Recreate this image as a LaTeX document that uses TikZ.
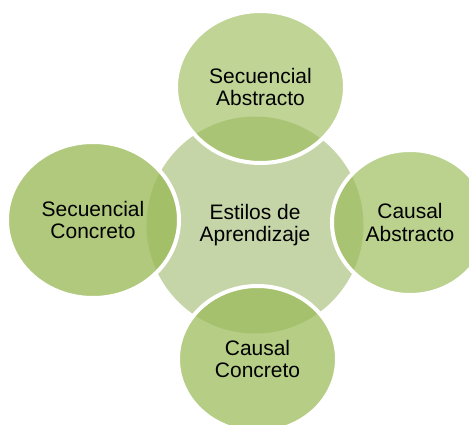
\documentclass[tikz,border=0pt]{standalone}
\usepackage{fontspec}
\setmainfont{Liberation Sans}
\usepackage{tikz}
\usetikzlibrary{shapes.geometric}

\definecolor{leaf}{RGB}{155,187,89}
\definecolor{hubgreen}{RGB}{197,213,168}

\tikzset{
  txt/.style={align=center, inner sep=0pt, font=\fontsize{17.9}{18.8}\selectfont},
  blob/.style={txt, ellipse, fill=leaf, draw=white, line width=0.12cm, text opacity=1}
}

\begin{document}
\begin{tikzpicture}[x=0.03cm, y=-0.03cm]
\useasboundingbox (0,0) rectangle (469,425);

% HUB
  \node[txt, circle, fill=hubgreen, minimum size=6.51cm] (hub) at (255,225) {Estilos de\\Aprendizaje};

% CIRCLES
  \node[blob, fill opacity=0.63, minimum width=5.07cm, minimum height=4.56cm] (secabs) at (260.5,87) {Secuencial\\Abstracto};
  \node[blob, fill opacity=0.68, minimum width=4.68cm, minimum height=4.35cm] (cauabs) at (410,222.5) {Causal\\Abstracto};
  \node[blob, fill opacity=0.74, minimum width=4.77cm, minimum height=4.38cm] (caucon) at (257.5,359) {Causal\\Concreto};
  \node[blob, fill opacity=0.79, minimum width=5.16cm, minimum height=4.68cm] (seccon) at (93,220) {Secuencial\\Concreto};

\end{tikzpicture}
\end{document}
